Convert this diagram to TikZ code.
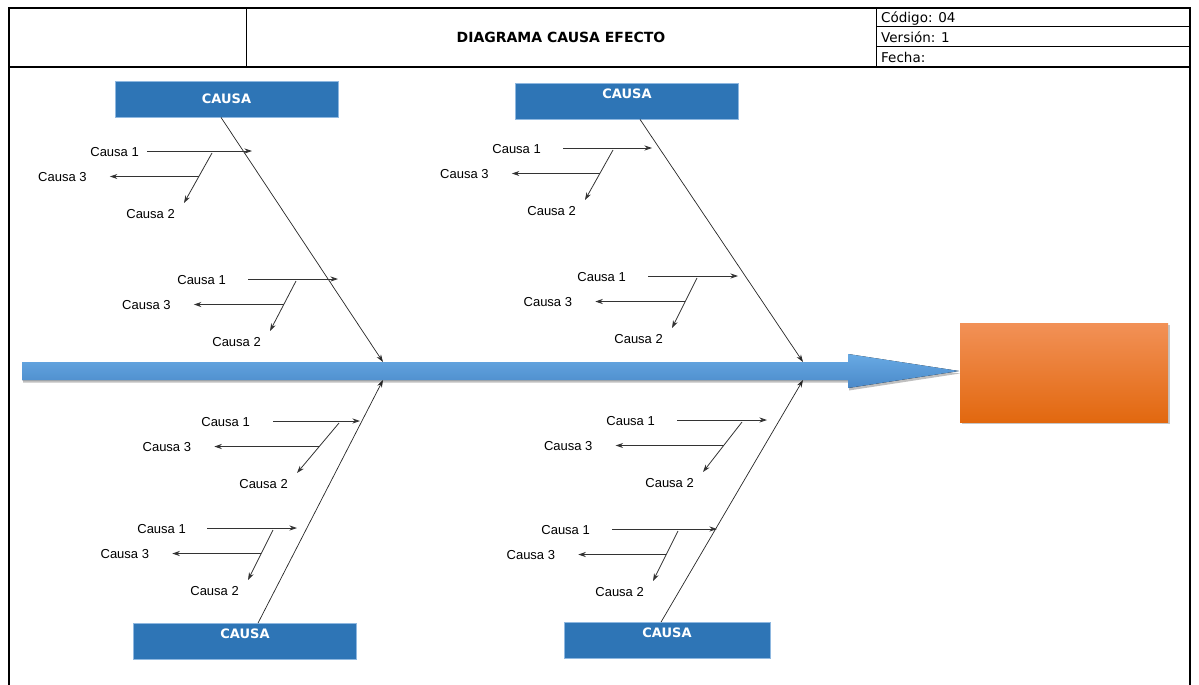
\documentclass[tikz,border=0pt]{standalone}
\usepackage{fontspec}
\setmainfont{Liberation Sans}
\newfontfamily\dejavu{DejaVu Sans}
\usepackage{tikz}
\usetikzlibrary{positioning,shadows,arrows.meta,calc}

\definecolor{azul}{HTML}{2E75B6}
\definecolor{azulborde}{HTML}{8FB8E0}
\definecolor{azul1}{HTML}{68AAE4}
\definecolor{azul2}{HTML}{4A89C9}
\definecolor{naranja1}{HTML}{F29157}
\definecolor{naranja2}{HTML}{F47E2B}
\definecolor{naranja3}{HTML}{E2680F}

% grupo de subcausas: nombre, punta x, punta y, largo 1, hueco, inicio 2, fin 2, largo 3
\newcommand{\grupo}[8]{%
\coordinate (#1p1) at (#2,#3);
\coordinate (#1a1) at (#2-#4,#3);
\coordinate (#1a2) at (#2-#6,#3+2);
\coordinate (#1p2) at (#2-#7,#3+52);
\coordinate (#1a3) at ($(#1a2)!0.47!(#1p2)$);
\coordinate (#1p3) at ($(#1a3)+(-#8,0)$);
\node[etiq, anchor=east] (#1c1) at ($(#1a1)+(-#5,1)$) {Causa 1};
\node[etiq, anchor=north east] (#1c2) at ($(#1p2)+(-9,6)$) {Causa 2};
\node[etiq, anchor=east] (#1c3) at ($(#1p3)+(-23,1)$) {Causa 3};
\draw[sub] (#1a1) -- (#1p1);
\draw[sub] (#1a2) -- (#1p2);
\draw[sub] (#1a3) -- (#1p3);
}

\begin{document}
\begin{tikzpicture}[x=1pt, y=-1pt,
  caja/.style={draw=azulborde, fill=azul, line width=0.8pt, minimum width=223pt, minimum height=36pt, inner sep=0pt},
  txtcausa/.style={text=white, font=\dejavu\bfseries\fontsize{13}{13}\selectfont, inner sep=0pt, anchor=north},
  etiq/.style={font=\fontsize{13}{13}\selectfont, inner sep=0pt},
  cabecera/.style={font=\dejavu\fontsize{13.5}{14}\selectfont, inner sep=0pt, anchor=base west},
  sub/.style={-{Stealth[length=7.5pt,width=5pt]}, line width=0.8pt, draw=black!80},
  espina/.style={-{Stealth[length=7.5pt,width=5pt]}, line width=0.7pt, draw=black!85}]
\useasboundingbox (0,0) rectangle (1199,685);

% cabecera
\draw[line width=2pt] (9,685) -- (9,8) -- (1190,8) -- (1190,685);
\draw[line width=1.6pt] (9,67) -- (1190,67);
\draw[line width=1pt] (246,8) -- (246,67);
\draw[line width=1pt] (876,8) -- (876,67);
\draw[line width=1pt] (876,27) -- (1190,27);
\draw[line width=1pt] (876,47) -- (1190,47);
\node[font=\dejavu\bfseries\fontsize{14}{14}\selectfont, inner sep=0pt] (titulo) at (561,37) {DIAGRAMA CAUSA EFECTO};
\node[cabecera] (codigo) at (881,23) {Código: 04};
\node[cabecera] (version) at (881,43) {Versión: 1};
\node[cabecera] (fecha) at (881,63) {Fecha:};

% espina principal y efecto
\fill[top color=azul1, bottom color=azul2, drop shadow={opacity=0.5, shadow xshift=1pt, shadow yshift=-2.5pt}]
  (22,362) -- (848,362) -- (848,354) -- (959,371) -- (848,388) -- (848,380) -- (22,380) -- cycle;
\node[minimum width=208pt, minimum height=99pt, inner sep=0pt, top color=naranja1, middle color=naranja2, bottom color=naranja3,
  drop shadow={opacity=0.45, shadow xshift=2pt, shadow yshift=-2pt}] (efecto) at (1064,372.5) {};
\coordinate (m1) at (383,362);
\coordinate (m2) at (803,362);
\coordinate (m3) at (383,380);
\coordinate (m4) at (803,380);

% causas
\node[caja] (ca1) at (226.5,99) {};
\node[txtcausa] (t1) at ([yshift=-13pt]ca1.north) {CAUSA};
\node[caja] (ca2) at (627,101) {};
\node[txtcausa] (t2) at ([yshift=-6pt]ca2.north) {CAUSA};
\node[caja] (ca3) at (245,641.5) {};
\node[txtcausa] (t3) at ([yshift=-6pt]ca3.north) {CAUSA};
\node[caja, minimum width=206pt] (ca4) at (667,640.5) {};
\node[txtcausa] (t4) at ([yshift=-6pt]ca4.north) {CAUSA};

\draw[espina] ([xshift=-5.5pt]ca1.south) -- (m1);
\draw[espina] ([xshift=13pt]ca2.south) -- (m2);
\draw[espina] ([xshift=13pt]ca3.north) -- (m3);
\draw[espina] ([xshift=-6pt]ca4.north) -- (m4);

% subcausas
\grupo{g1}{252}{151}{105}{8}{40}{68}{89}
\grupo{g2}{338}{279}{90}{22}{42}{68}{90}
\grupo{g3}{652}{148}{89}{22}{39}{67}{88}
\grupo{g4}{738}{276}{90}{22}{41}{66}{90}
\grupo{g5}{360}{421}{87}{23}{21}{63}{105}
\grupo{g6}{297}{528}{90}{21}{24}{49}{89}
\grupo{g7}{767}{420}{90}{22}{25}{64}{108}
\grupo{g8}{717}{529}{105}{22}{39}{64}{88}
\end{tikzpicture}
\end{document}
